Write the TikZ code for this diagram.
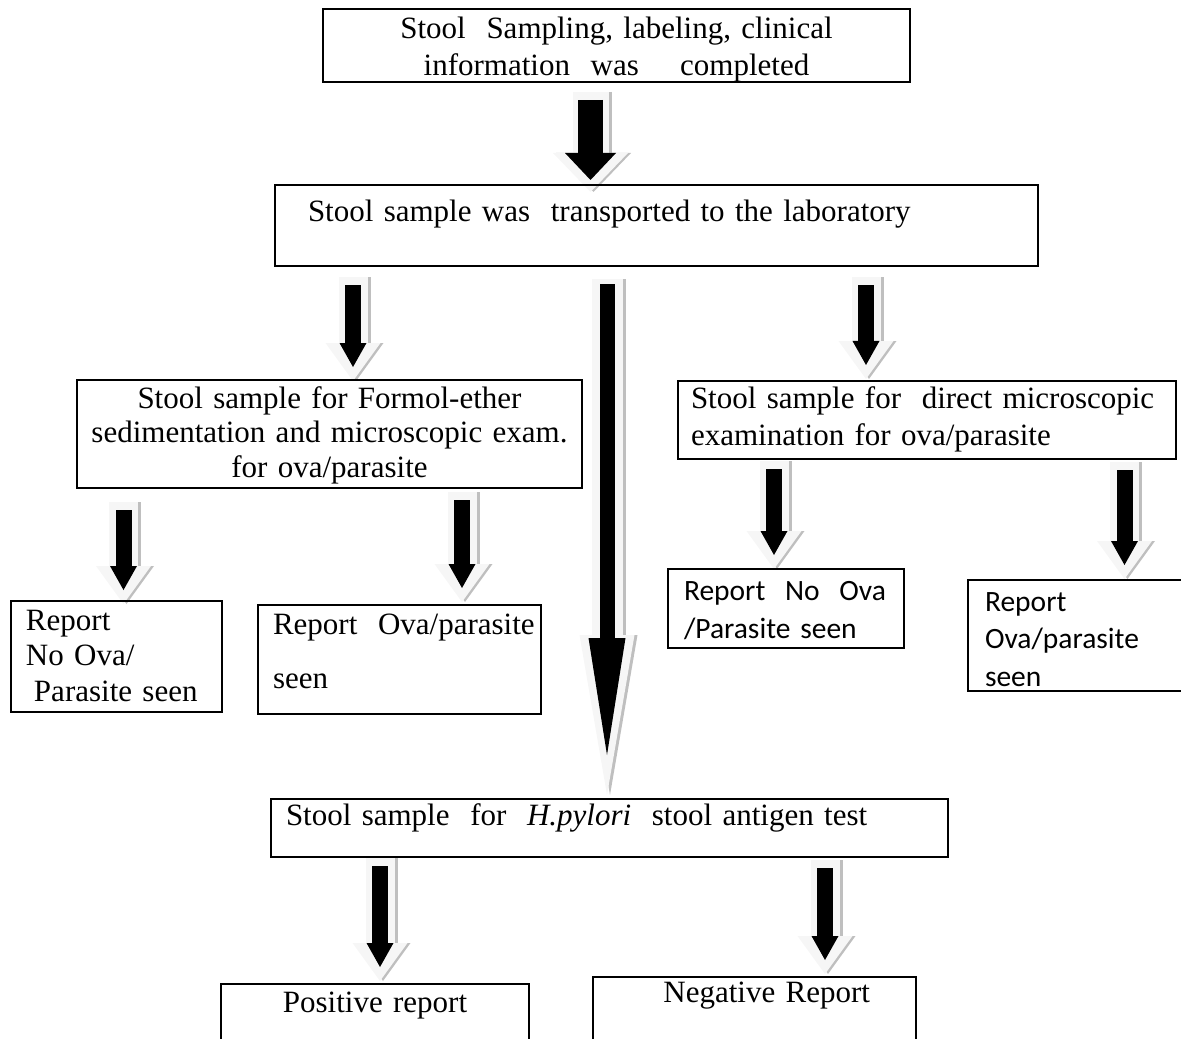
\documentclass[tikz,border=0pt]{standalone}
\usepackage{fontspec}
\setmainfont{Liberation Serif}
\newfontfamily\calibri{Carlito}
\usetikzlibrary{arrows.meta}
\usetikzlibrary{backgrounds}

% thick block arrow: shadow, light rim, black core
\newcommand{\blockarrow}[3][arrS]{%
  \begin{scope}[transform canvas={xshift=1.2pt}]
    \draw[#1 outer,draw=gray!50] (#2) -- (#3);
  \end{scope}
  \draw[#1 outer,draw=gray!7] (#2) -- (#3);
  \draw[#1,draw=black] (#2) -- (#3);
}

\begin{document}
\begin{tikzpicture}[x=0.4pt,y=-0.4pt,
  box/.style={draw,line width=0.8pt,anchor=north west,inner ysep=0pt,
    font=\fontsize{12.4}{14.8}\selectfont},
  left box/.style={box,align=left,inner xsep=6pt},
  centre box/.style={box,align=center,inner xsep=0pt},
  calibri box/.style={left box,font=\calibri\fontsize{11.8}{15.2}\selectfont},
  arrS/.style={line width=6.4pt,-{Triangle[length=9.6pt,width=10.8pt,line width=0pt]}},
  arrS outer/.style={line width=11.6pt,-{Triangle[length=15.2pt,width=22pt,line width=0pt]},
    shorten <=-3.2pt,shorten >=-5.6pt},
  arrM/.style={line width=10pt,-{Triangle[length=10.8pt,width=20.4pt,line width=0pt]}},
  arrM outer/.style={line width=14.4pt,-{Triangle[length=15.6pt,width=30pt,line width=0pt]},
    shorten <=-3.2pt,shorten >=-4.8pt},
  arrL/.style={line width=6pt,-{Triangle[length=46.8pt,width=14.8pt,line width=0pt]}},
  arrL outer/.style={line width=12.4pt,-{Triangle[length=64pt,width=22pt,line width=0pt]},
    shorten <=-2pt,shorten >=-16pt}]

  \useasboundingbox (0,0) rectangle (1181,1039);

  \node[centre box,text width=234.8pt,text height=12pt,text depth=17.2pt] (sampling) at (322,8)
    {Stool\ \ Sampling, labeling, clinical\\information\ \ was\ \ \ \ completed};
  \node[left box,inner xsep=13.2pt,text width=278.8pt,text height=14.8pt,text depth=17.6pt] (transport) at (274,184)
    {Stool sample was\ \ transported to the laboratory};
  \node[centre box,text width=202pt,text height=11.2pt,text depth=32pt,font=\fontsize{12.4}{13.8}\selectfont] (formol) at (76,379)
    {Stool sample for Formol-ether\\sedimentation and microscopic exam.\\for ova/parasite};
  \node[left box,inner xsep=5.2pt,text width=188.8pt,text height=10.8pt,text depth=20.4pt] (direct) at (677,380)
    {Stool sample for\ \ direct microscopic\\examination for ova/parasite};
  \node[left box,text width=72.4pt,text height=11.6pt,text depth=32.8pt,font=\fontsize{12.4}{14.2}\selectfont] (fnoova) at (10,600)
    {Report\\No Ova/\\\hspace*{3.2pt}Parasite seen};
  \node[left box,text width=101.2pt,text height=11.6pt,text depth=32pt] (fova) at (257,604)
    {Report~~Ova/parasite\\[6.8pt]seen};
  \node[calibri box,inner xsep=6.4pt,text width=81.6pt,text height=12.4pt,text depth=19.2pt] (dnoova) at (667,568)
    {Report~~No~~Ova\\/Parasite seen};
  \node[calibri box,inner xsep=6.8pt,text width=90pt,text height=12.4pt,text depth=32pt,font=\calibri\fontsize{11.8}{15}\selectfont] (dova) at (967,579)
    {Report\\Ova/parasite\\seen};
  \node[left box,text width=258.8pt,text height=10.4pt,text depth=12.8pt] (hpylori) at (270,798)
    {Stool sample\ \ for\ \ \textit{H.pylori}\ \ stool antigen test};
  \node[centre box,text width=123.2pt,text height=11.2pt,text depth=24pt] (positive) at (220,983)
    {Positive report};
  \node[box,align=right,inner xsep=18.4pt,text width=92.4pt,text height=10pt,text depth=28pt] (negative) at (592,976)
    {Negative Report};

  \begin{scope}[on background layer]
    \blockarrow[arrM]{[shift={(268.5,17)}]sampling.south west}{[shift={(316.5,-4)}]transport.north west}
    \blockarrow[arrL]{[shift={(333,17)}]transport.south west}{[shift={(337,-43)}]hpylori.north west}
    \blockarrow{[shift={(79,18)}]transport.south west}{[shift={(277,-12)}]formol.north west}
    \blockarrow{[shift={(592,18)}]transport.south west}{[shift={(189,-15)}]direct.north west}
    \blockarrow{[shift={(47.5,21)}]formol.south west}{[shift={(113.5,-10)}]fnoova.north west}
    \blockarrow{[shift={(386,11)}]formol.south west}{[shift={(205,-16)}]fova.north west}
    \blockarrow{[shift={(97,9)}]direct.south west}{[shift={(107,-13)}]dnoova.north west}
    \blockarrow{[shift={(447.5,10)}]direct.south west}{[shift={(157.5,-14)}]dova.north west}
    \blockarrow{[shift={(110,8)}]hpylori.south west}{[shift={(160,-16)}]positive.north west}
    \blockarrow{[shift={(555,10)}]hpylori.south west}{[shift={(233,-16)}]negative.north west}
  \end{scope}
\end{tikzpicture}
\end{document}
